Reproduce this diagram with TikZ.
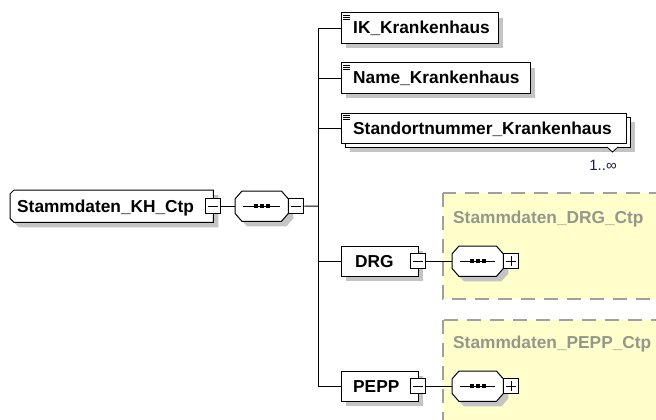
\documentclass[tikz,border=0pt]{standalone}
\usepackage{fontspec}
\setmainfont{Liberation Sans}
\usetikzlibrary{shadows}
\definecolor{shad}{RGB}{196,196,196}
\definecolor{ylw}{RGB}{255,255,204}
\definecolor{dashc}{RGB}{160,160,160}
\definecolor{lblc}{RGB}{150,150,140}
\definecolor{multc}{RGB}{30,30,70}
\begin{document}
\begin{tikzpicture}[x=1pt,y=-1pt,
  txt/.style={font=\fontsize{17.3}{20}\selectfont\bfseries, inner sep=0pt, anchor=base west},
  gtxt/.style={txt, text=lblc},
  area/.style={inner sep=0pt, anchor=north west},
  shp/.style={draw, fill=white, line width=1pt, drop shadow={shadow xshift=5pt, shadow yshift=-5pt, fill=shad, opacity=1}},
  flat/.style={draw, fill=white, line width=1pt},
  tog/.style={draw, fill=white, line width=1pt, inner sep=0pt, minimum width=15pt, minimum height=15pt},
  conn/.style={line width=1pt},
  grp/.style={draw=dashc, fill=ylw, line width=1.6pt, dash pattern=on 14pt off 9pt},
]
\useasboundingbox (0,0) rectangle (656,420);
\clip (0,0) rectangle (656,420);

% group backgrounds
\path[grp] (443,193) rectangle (700,299);
\path[grp] (443,320) rectangle (700,450);
\node[gtxt] (drgctp) at (453,223) {Stammdaten\_DRG\_Ctp};
\node[gtxt] (peppctp) at (453,348) {Stammdaten\_PEPP\_Ctp};

% root
\node[area, minimum width=203pt, minimum height=32pt] (root) at (10,190) {};
\draw[shp] ([xshift=4pt]root.north west) -- (root.north east) -- (root.south east)
  -- ([xshift=4pt]root.south west) -- ([yshift=4pt]root.south west)
  -- ([yshift=-4pt]root.north west) -- cycle;
\node[txt] (roottxt) at (17,212) {Stammdaten\_KH\_Ctp};
\node[tog] (rootm) at (root.east) {};
\draw[conn] ([xshift=3pt]rootm.west) -- ([xshift=-3pt]rootm.east);

% sequence compositor (main)
\node[area, minimum width=53pt, minimum height=30pt] (seq) at (235,191) {};
\draw[shp] ([xshift=7pt]seq.north west) -- ([xshift=-7pt]seq.north east)
  -- ([yshift=-8pt]seq.north east) -- ([yshift=8pt]seq.south east)
  -- ([xshift=-7pt]seq.south east) -- ([xshift=7pt]seq.south west)
  -- ([yshift=8pt]seq.south west) -- ([yshift=-8pt]seq.north west) -- cycle;
\draw[conn] ([xshift=8pt]seq.west) -- ([xshift=-8pt]seq.east);
\foreach \dx in {-6,0,6} \fill ([xshift=\dx pt]seq.center) ++(-2,-2) rectangle ++(4,4);
\node[tog, anchor=west] (seqm) at (seq.east) {};
\draw[conn] ([xshift=3pt]seqm.west) -- ([xshift=-3pt]seqm.east);
\draw[conn] (rootm.east) -- (seq.west);

% children
\node[area, minimum width=157pt, minimum height=30pt] (ik) at (341,13) {};
\draw[shp] (ik.north west) rectangle (ik.south east);
\node[txt] (iktxt) at (353,34) {IK\_Krankenhaus};

\node[area, minimum width=189pt, minimum height=30pt] (name) at (341,63) {};
\draw[shp] (name.north west) rectangle (name.south east);
\node[txt] (nametxt) at (353,84) {Name\_Krankenhaus};

\node[area, minimum width=285pt, minimum height=30pt] (stdb) at (345,117) {};
\draw[shp] (stdb.north west) rectangle (stdb.south east);
\node[area, minimum width=285pt, minimum height=30pt] (std) at (341,113) {};
\draw[flat] (std.north west) rectangle (std.south east);
\node[txt] (stdtxt) at (353,134) {Standortnummer\_Krankenhaus};
\coordinate (notch) at (612.5,147);
\draw[line width=0.8pt, fill=white] ([xshift=-5.5pt]notch) -- ([yshift=-5pt]notch) -- ([xshift=5.5pt]notch);
\node[font=\fontsize{15}{17}\selectfont, text=multc, inner sep=0pt] (mult) at (603,165) {1..∞};

% element icons
\foreach \n in {ik,name,std} {
  \foreach \dy in {2.5,4.5,6.5}
    \draw[line width=0.7pt] ([xshift=2pt,yshift=-\dy pt]\n.north west) -- ++(7,0);
}

% DRG
\node[area, minimum width=77pt, minimum height=30pt] (drg) at (341,246) {};
\draw[shp] (drg.north west) rectangle (drg.south east);
\node[txt] (drgtxt) at (355,267) {DRG};
\node[tog] (drgm) at (drg.east) {};
\draw[conn] ([xshift=3pt]drgm.west) -- ([xshift=-3pt]drgm.east);

\node[area, minimum width=51pt, minimum height=30pt] (seqd) at (452,246) {};
\draw[shp] ([xshift=7pt]seqd.north west) -- ([xshift=-7pt]seqd.north east)
  -- ([yshift=-8pt]seqd.north east) -- ([yshift=8pt]seqd.south east)
  -- ([xshift=-7pt]seqd.south east) -- ([xshift=7pt]seqd.south west)
  -- ([yshift=8pt]seqd.south west) -- ([yshift=-8pt]seqd.north west) -- cycle;
\draw[conn] ([xshift=8pt]seqd.west) -- ([xshift=-8pt]seqd.east);
\foreach \dx in {-6,0,6} \fill ([xshift=\dx pt]seqd.center) ++(-2,-2) rectangle ++(4,4);
\node[tog, anchor=west] (seqdp) at (seqd.east) {};
\draw[conn] ([xshift=3pt]seqdp.west) -- ([xshift=-3pt]seqdp.east)
  ([yshift=3pt]seqdp.south) -- ([yshift=-3pt]seqdp.north);
\draw[conn] (drgm.east) -- (seqd.west);

% PEPP
\node[area, minimum width=77pt, minimum height=30pt] (pepp) at (341,371) {};
\draw[shp] (pepp.north west) rectangle (pepp.south east);
\node[txt] (pepptxt) at (353,392) {PEPP};
\node[tog] (peppm) at (pepp.east) {};
\draw[conn] ([xshift=3pt]peppm.west) -- ([xshift=-3pt]peppm.east);

\node[area, minimum width=51pt, minimum height=30pt] (seqp) at (452,371) {};
\draw[shp] ([xshift=7pt]seqp.north west) -- ([xshift=-7pt]seqp.north east)
  -- ([yshift=-8pt]seqp.north east) -- ([yshift=8pt]seqp.south east)
  -- ([xshift=-7pt]seqp.south east) -- ([xshift=7pt]seqp.south west)
  -- ([yshift=8pt]seqp.south west) -- ([yshift=-8pt]seqp.north west) -- cycle;
\draw[conn] ([xshift=8pt]seqp.west) -- ([xshift=-8pt]seqp.east);
\foreach \dx in {-6,0,6} \fill ([xshift=\dx pt]seqp.center) ++(-2,-2) rectangle ++(4,4);
\node[tog, anchor=west] (seqpp) at (seqp.east) {};
\draw[conn] ([xshift=3pt]seqpp.west) -- ([xshift=-3pt]seqpp.east)
  ([yshift=3pt]seqpp.south) -- ([yshift=-3pt]seqpp.north);
\draw[conn] (peppm.east) -- (seqp.west);

% bus
\coordinate (bus) at (318,206);
\draw[conn] (seqm.east) -- (bus);
\draw[conn] (ik.west) -| (bus |- pepp.west) -- (pepp.west);
\draw[conn] (name.west) -- (name.west -| bus);
\draw[conn] (std.west) -- (std.west -| bus);
\draw[conn] (drg.west) -- (drg.west -| bus);
\end{tikzpicture}
\end{document}
